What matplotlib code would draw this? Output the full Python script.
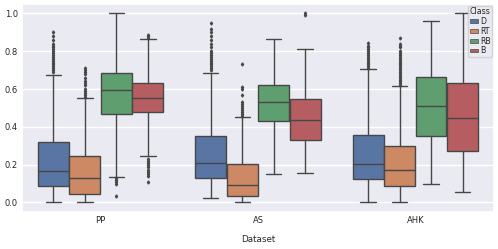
import matplotlib
matplotlib.use("Agg")
import matplotlib.pyplot as plt
from matplotlib.patches import Patch
import seaborn as sns

# box statistics, per dataset, per class
datasets = ["PP", "AS", "AHK"]
classes = ["D", "RT", "RB", "B"]

med = [[0.166, 0.129, 0.593, 0.550],
       [0.208, 0.094, 0.531, 0.437],
       [0.205, 0.173, 0.512, 0.448]]
q1 = [[0.086, 0.046, 0.466, 0.476],
      [0.129, 0.035, 0.432, 0.333],
      [0.123, 0.085, 0.351, 0.273]]
q3 = [[0.319, 0.247, 0.686, 0.630],
      [0.353, 0.203, 0.621, 0.547],
      [0.358, 0.298, 0.663, 0.631]]
whislo = [[0.002, 0.0, 0.136, 0.247],
          [0.021, 0.0, 0.153, 0.157],
          [0.005, 0.0, 0.099, 0.057]]
whishi = [[0.674, 0.552, 1.0, 0.864],
          [0.683, 0.453, 0.864, 0.810],
          [0.707, 0.617, 0.959, 1.0]]
fliers = [
    [[0.69, 0.70, 0.71, 0.72, 0.73, 0.74, 0.75, 0.76, 0.77, 0.78, 0.79, 0.80,
      0.81, 0.82, 0.83, 0.84, 0.86, 0.88, 0.90],
     [0.56, 0.57, 0.58, 0.59, 0.60, 0.62, 0.63, 0.64, 0.66, 0.68, 0.69, 0.70, 0.71],
     [0.13, 0.12, 0.11, 0.10, 0.035],
     [0.87, 0.88, 0.885, 0.23, 0.22, 0.21, 0.20, 0.19, 0.17, 0.16, 0.15, 0.14, 0.11]],
    [[0.70, 0.71, 0.72, 0.73, 0.74, 0.75, 0.76, 0.77, 0.78, 0.79, 0.80, 0.82,
      0.84, 0.86, 0.88, 0.90, 0.92, 0.95],
     [0.46, 0.47, 0.48, 0.49, 0.50, 0.51, 0.52, 0.53, 0.57, 0.60, 0.61, 0.73],
     [],
     [0.99, 1.0]],
    [[0.71, 0.72, 0.73, 0.74, 0.75, 0.76, 0.77, 0.78, 0.79, 0.80, 0.81, 0.82,
      0.83, 0.845],
     [0.62, 0.63, 0.64, 0.65, 0.66, 0.67, 0.68, 0.69, 0.70, 0.71, 0.72, 0.73,
      0.74, 0.75, 0.76, 0.77, 0.78, 0.79, 0.80, 0.82, 0.83, 0.84, 0.87],
     [],
     []],
]

sns.set_theme(style="darkgrid")
plt.rcParams["font.family"] = ["DejaVu Sans"]

colors = [sns.desaturate(c, 0.75) for c in sns.color_palette("deep")[:4]]
gray = "#474747"

fig = plt.figure(figsize=(4.98, 2.49), dpi=100)
ax = fig.add_axes([0.044, 0.149, 0.948, 0.835])

for i in range(len(datasets)):
    for j in range(len(classes)):
        st = dict(med=med[i][j], q1=q1[i][j], q3=q3[i][j],
                  whislo=whislo[i][j], whishi=whishi[i][j],
                  fliers=fliers[i][j])
        ax.bxp([st], positions=[i + (j - 1.5) * 0.2], widths=0.196,
               patch_artist=True, manage_ticks=False,
               boxprops=dict(facecolor=colors[j], edgecolor=gray, linewidth=1.0),
               medianprops=dict(color=gray, linewidth=1.0),
               whiskerprops=dict(color=gray, linewidth=1.0),
               capprops=dict(color=gray, linewidth=1.0),
               flierprops=dict(marker="d", markersize=1.6, markerfacecolor=gray,
                               markeredgecolor=gray, linestyle="none"))

ax.set_xlim(-0.5, 2.5)
ax.set_ylim(-0.05, 1.05)
ax.set_xticks(range(len(datasets)))
ax.set_xticklabels(datasets)
ax.set_yticks([0.0, 0.2, 0.4, 0.6, 0.8, 1.0])
ax.xaxis.grid(False)
ax.tick_params(labelsize=6, pad=3, length=0)
ax.set_xlabel("Dataset", fontsize=6.3, labelpad=7.5)

handles = [Patch(facecolor=colors[j], edgecolor=gray, linewidth=0.5, label=classes[j])
           for j in range(len(classes))]
leg = ax.legend(handles=handles, title="Class", loc="upper right", fontsize=5.7,
                title_fontsize=5.7, handlelength=1.0, handleheight=0.35,
                handletextpad=0.3, labelspacing=0.1, borderpad=0.2,
                borderaxespad=0.2, framealpha=0.8)
leg._legend_box.align = "left"

fig.savefig("out.png", dpi=100)
